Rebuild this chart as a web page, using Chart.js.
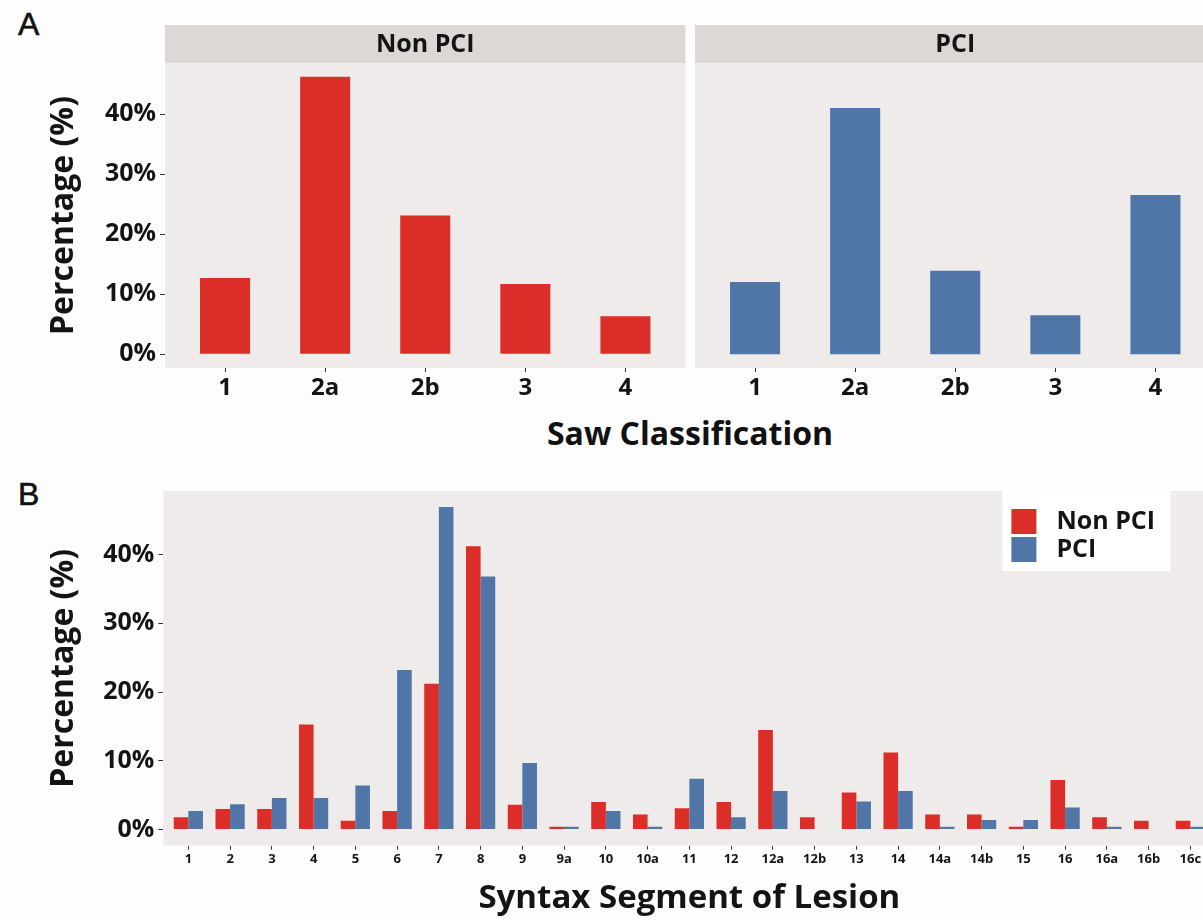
<!DOCTYPE html>
<html>
<head>
<meta charset="utf-8">
<script src="https://cdn.jsdelivr.net/npm/chart.js@4.4.0/dist/chart.umd.min.js"></script>
<style>
  html, body { margin: 0; padding: 0; }
  body { width: 1203px; height: 920px; overflow: hidden; position: relative; background: #fdfdfd; font-family: "Open Sans", sans-serif; }
  canvas { position: absolute; display: block; }
  .lbl { position: absolute; color: #111; white-space: nowrap; }
</style>
</head>
<body>
<div class="lbl" style="left:18px;top:6px;font:32px 'Liberation Sans',Arial,sans-serif;-webkit-text-stroke:0.6px #111;">A</div>
<div class="lbl" style="left:18px;top:476px;font:32px 'Liberation Sans',Arial,sans-serif;-webkit-text-stroke:0.6px #111;">B</div>
<div class="lbl" style="left:440px;width:500px;text-align:center;top:411px;line-height:40px;font:bold 32px 'Open Sans',sans-serif;">Saw Classification</div>
<canvas id="a1" width="690" height="460" style="left:0;top:0;width:690px;height:460px;"></canvas>
<canvas id="a2" width="530" height="460" style="left:690px;top:0;width:530px;height:460px;"></canvas>
<canvas id="b" width="1220" height="450" style="left:0;top:470px;width:1220px;height:450px;"></canvas>
<script>
// ---------- data ----------
const sawCategories = ['1', '2a', '2b', '3', '4'];
const sawNonPCI = [12.7, 46.2, 23.1, 11.7, 6.3];
const sawPCI = [12.0, 41.0, 13.9, 6.5, 26.5];

const segmentLabels = ['1','2','3','4','5','6','7','8','9','9a','10','10a','11','12','12a','12b','13','14','14a','14b','15','16','16a','16b','16c'];
const segNonPCI = [1.8, 3.0, 3.0, 15.3, 1.3, 2.7, 21.2, 41.2, 3.6, 0.4, 4.0, 2.2, 3.1, 4.0, 14.5, 1.8, 5.4, 11.2, 2.2, 2.2, 0.4, 7.2, 1.8, 1.3, 1.3];
const segPCI = [2.7, 3.7, 4.6, 4.6, 6.4, 23.2, 46.9, 36.8, 9.7, 0.4, 2.7, 0.4, 7.4, 1.8, 5.6, 0, 4.1, 5.6, 0.4, 1.4, 1.4, 3.2, 0.4, 0, 0.4];

const yTickValues = [0, 10, 20, 30, 40];
const groupNames = ['Non PCI', 'PCI'];

// ---------- style ----------
const RED = '#db2e29';
const BLUE = '#4f76a7';
const PANEL = '#efebea';
const STRIP = '#ddd7d5';
const INK = '#141414';
const FONT = "'Open Sans', sans-serif";

Chart.defaults.font.family = FONT;
Chart.defaults.color = INK;
Chart.defaults.animation = false;

function toPoints(vals) { return vals.map((v, i) => ({ x: i, y: v })); }
function yRange(arrs) {
  const m = Math.max(...arrs.flat());
  return { min: -0.05 * m, max: 1.05 * m };
}

const panelBg = {
  id: 'panelBg',
  beforeDraw(chart, args, opts) {
    const { ctx, chartArea: a } = chart;
    ctx.save();
    ctx.fillStyle = PANEL;
    ctx.fillRect(a.left, a.top, a.right - a.left, a.bottom - a.top);
    if (opts.strip) {
      ctx.fillStyle = STRIP;
      ctx.fillRect(a.left, opts.stripTop, a.right - a.left, a.top - opts.stripTop);
      ctx.fillStyle = INK;
      ctx.font = 'bold 25px ' + FONT;
      ctx.textAlign = 'center';
      ctx.textBaseline = 'middle';
      ctx.fillText(opts.strip, (a.left + a.right) / 2, (opts.stripTop + a.top) / 2 + 1);
    }
    ctx.restore();
  }
};

const boxLegend = {
  id: 'boxLegend',
  afterDraw(chart, args, opts) {
    if (!opts.show) return;
    const { ctx, chartArea: a } = chart;
    const w = 168, h = 81;
    const x = a.right - 45 - w, y = a.top - 1;
    ctx.save();
    ctx.fillStyle = '#ffffff';
    ctx.fillRect(x, y, w, h);
    ctx.font = 'bold 25px ' + FONT;
    ctx.textBaseline = 'middle';
    ctx.textAlign = 'left';
    chart.data.datasets.forEach((ds, i) => {
      const ky = y + 19 + i * 28;
      ctx.fillStyle = ds.backgroundColor;
      ctx.fillRect(x + 9, ky, 25, 25);
      ctx.fillStyle = INK;
      ctx.fillText(ds.label, x + 54, ky + 13);
    });
    ctx.restore();
  }
};

function xScale(labels, fontSize, height, title) {
  return {
    type: 'linear',
    offset: false,
    min: -0.6,
    max: labels.length - 0.4,
    afterBuildTicks: s => { s.ticks = labels.map((_, i) => ({ value: i })); },
    afterFit: s => { s.height = height; },
    ticks: {
      autoSkip: false, maxRotation: 0, minRotation: 0,
      padding: 2,
      font: { size: fontSize, weight: 'bold' },
      color: INK,
      callback: v => labels[v]
    },
    grid: { display: true, offset: false, drawOnChartArea: false, drawTicks: true, tickLength: 4, color: '#333', lineWidth: 1 },
    border: { display: false },
    title: title ? { display: true, text: title, font: { size: 33, weight: 'bold' }, color: INK, padding: { top: 0, bottom: 2 } } : { display: false }
  };
}

function yScale(range, show, width) {
  return {
    display: show,
    min: range.min,
    max: range.max,
    afterBuildTicks: s => { s.ticks = yTickValues.map(v => ({ value: v })); },
    afterFit: s => { s.width = width; },
    ticks: {
      padding: 4,
      font: { size: 25, weight: 'bold' },
      color: INK,
      callback: v => v + '%'
    },
    grid: { display: true, drawOnChartArea: false, drawTicks: true, tickLength: 5, color: '#333', lineWidth: 1 },
    border: { display: false },
    title: { display: true, text: 'Percentage (%)', font: { size: 32, weight: 'bold' }, color: INK, padding: { top: 45, bottom: 0 } }
  };
}

const rangeA = yRange([sawNonPCI, sawPCI]);
const rangeB = yRange([segNonPCI, segPCI]);

// Panel A - Non PCI
new Chart(document.getElementById('a1'), {
  type: 'bar',
  data: { datasets: [{ label: groupNames[0], data: toPoints(sawNonPCI), backgroundColor: RED, borderWidth: 0 }] },
  options: {
    responsive: false,
    layout: { padding: { left: 0, top: 63, right: 4.5, bottom: 0 } },
    barPercentage: 0.5, categoryPercentage: 1.0,
    scales: { x: xScale(sawCategories, 24, 92, null), y: yScale(rangeA, true, 165) },
    plugins: { legend: { display: false }, tooltip: { enabled: false }, panelBg: { strip: groupNames[0], stripTop: 25 }, boxLegend: { show: false } }
  },
  plugins: [panelBg, boxLegend]
});

// Panel A - PCI
new Chart(document.getElementById('a2'), {
  type: 'bar',
  data: { datasets: [{ label: groupNames[1], data: toPoints(sawPCI), backgroundColor: BLUE, borderWidth: 0 }] },
  options: {
    responsive: false,
    layout: { padding: { left: 5, top: 63, right: 4.5, bottom: 0 } },
    barPercentage: 0.5, categoryPercentage: 1.0,
    scales: { x: xScale(sawCategories, 24, 92, null), y: yScale(rangeA, false, 0) },
    plugins: { legend: { display: false }, tooltip: { enabled: false }, panelBg: { strip: groupNames[1], stripTop: 25 }, boxLegend: { show: false } }
  },
  plugins: [panelBg, boxLegend]
});

// Panel B
new Chart(document.getElementById('b'), {
  type: 'bar',
  data: {
    datasets: [
      { label: groupNames[0], data: toPoints(segNonPCI), backgroundColor: RED, borderWidth: 0 },
      { label: groupNames[1], data: toPoints(segPCI), backgroundColor: BLUE, borderWidth: 0 }
    ]
  },
  options: {
    responsive: false,
    layout: { padding: { left: 0, top: 21, right: 4.6, bottom: 0 } },
    barPercentage: 1.0, categoryPercentage: 0.7,
    scales: { x: xScale(segmentLabels, 13, 74.3, 'Syntax Segment of Lesion'), y: yScale(rangeB, true, 163.3) },
    plugins: { legend: { display: false }, tooltip: { enabled: false }, panelBg: { strip: null }, boxLegend: { show: true } }
  },
  plugins: [panelBg, boxLegend]
});
</script>
</body>
</html>
